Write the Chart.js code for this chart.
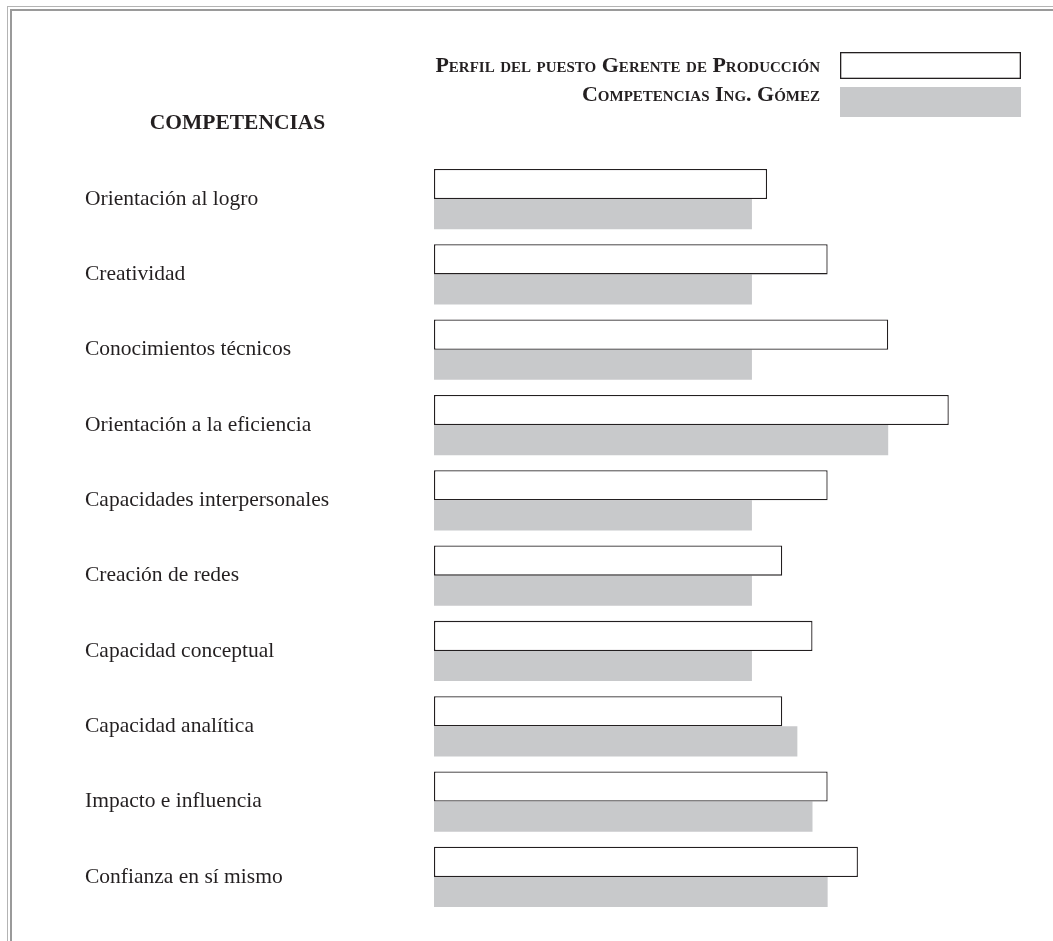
<!DOCTYPE html>
<html>
<head>
<meta charset="utf-8">
<script src="https://cdn.jsdelivr.net/npm/chart.js@4.4.1/dist/chart.umd.min.js"></script>
<style>
  html, body { margin: 0; padding: 0; background: #ffffff; }
  #wrap { position: relative; width: 1053px; height: 941px; overflow: hidden; }
  #b1 { position: absolute; left: 7px; top: 6px; width: 1100px; height: 1000px;
        border-left: 1.5px solid #b4b4b4; border-top: 1.5px solid #b4b4b4; }
  #b2 { position: absolute; left: 10px; top: 9px; width: 1100px; height: 1000px;
        border-left: 2px solid #9a9a9a; border-top: 2px solid #9a9a9a; }
  canvas { position: absolute; left: 0; top: 0; }
</style>
</head>
<body>
<div id="wrap">
  <div id="b1"></div>
  <div id="b2"></div>
  <canvas id="c" width="1053" height="941"></canvas>
</div>
<script>
// ---- data ----
const categories = [
  'Orientación al logro',
  'Creatividad',
  'Conocimientos técnicos',
  'Orientación a la eficiencia',
  'Capacidades interpersonales',
  'Creación de redes',
  'Capacidad conceptual',
  'Capacidad analítica',
  'Impacto e influencia',
  'Confianza en sí mismo'
];
const perfilPuesto      = [22, 26, 30, 34, 26, 23, 25, 23, 26, 28];
const competenciasGomez = [21, 21, 21, 30, 21, 21, 21, 24, 25, 26];
const seriesLabels = ['Perfil del puesto Gerente de Producción', 'Competencias Ing. Gómez'];
const headerLabel = 'COMPETENCIAS';

const TEXT = '#231f20';
const GRAY = '#c8c9cb';

const overlayPlugin = {
  id: 'overlay',
  afterDraw(chart) {
    const ctx = chart.ctx;
    ctx.save();
    // header
    ctx.fillStyle = TEXT;
    ctx.font = 'bold 21.5px "Liberation Serif"';
    ctx.textAlign = 'center';
    ctx.textBaseline = 'middle';
    ctx.fillText(headerLabel, 237.5, 123);
    // legend
    const layout = [
      { y: 52, h: 27, ty: 66 },
      { y: 87, h: 30, ty: 95 }
    ];
    chart.data.datasets.forEach((ds, i) => {
      const L = layout[i];
      ctx.fillStyle = ds.backgroundColor;
      ctx.fillRect(840, L.y, 181, L.h);
      if (ds.borderWidth) {
        ctx.strokeStyle = ds.borderColor;
        ctx.lineWidth = ds.borderWidth;
        ctx.strokeRect(840 + 0.65, L.y + 0.65, 181 - 1.3, L.h - 1.3);
      }
      ctx.fillStyle = TEXT;
      ctx.font = 'small-caps bold 22px "Liberation Serif"';
      if ('fontVariantCaps' in ctx) ctx.fontVariantCaps = 'small-caps';
      ctx.textAlign = 'right';
      ctx.textBaseline = 'middle';
      ctx.fillText(ds.label, 820, L.ty);
    });
    ctx.restore();
  }
};

new Chart(document.getElementById('c'), {
  type: 'bar',
  data: {
    labels: categories,
    datasets: [
      {
        label: seriesLabels[0],
        data: perfilPuesto,
        backgroundColor: '#ffffff',
        borderColor: '#231f20',
        borderWidth: 1.3,
        borderSkipped: false
      },
      {
        label: seriesLabels[1],
        data: competenciasGomez,
        backgroundColor: GRAY,
        borderWidth: 0,
        borderSkipped: false
      }
    ]
  },
  options: {
    indexAxis: 'y',
    responsive: false,
    animation: false,
    devicePixelRatio: 1,
    layout: { padding: { left: 85, top: 161.4, right: 13.4, bottom: 26.4 } },
    datasets: { bar: { categoryPercentage: 0.8, barPercentage: 1.0 } },
    plugins: {
      legend: { display: false },
      title: { display: false },
      tooltip: { enabled: false }
    },
    scales: {
      x: { display: false, min: 0, max: 40 },
      y: {
        grid: { display: false },
        border: { display: false },
        afterFit(scale) { scale.width = 349; },
        ticks: {
          crossAlign: 'far',
          color: TEXT,
          font: { family: '"Liberation Serif"', size: 21.5 }
        }
      }
    }
  },
  plugins: [overlayPlugin]
});
</script>
</body>
</html>
